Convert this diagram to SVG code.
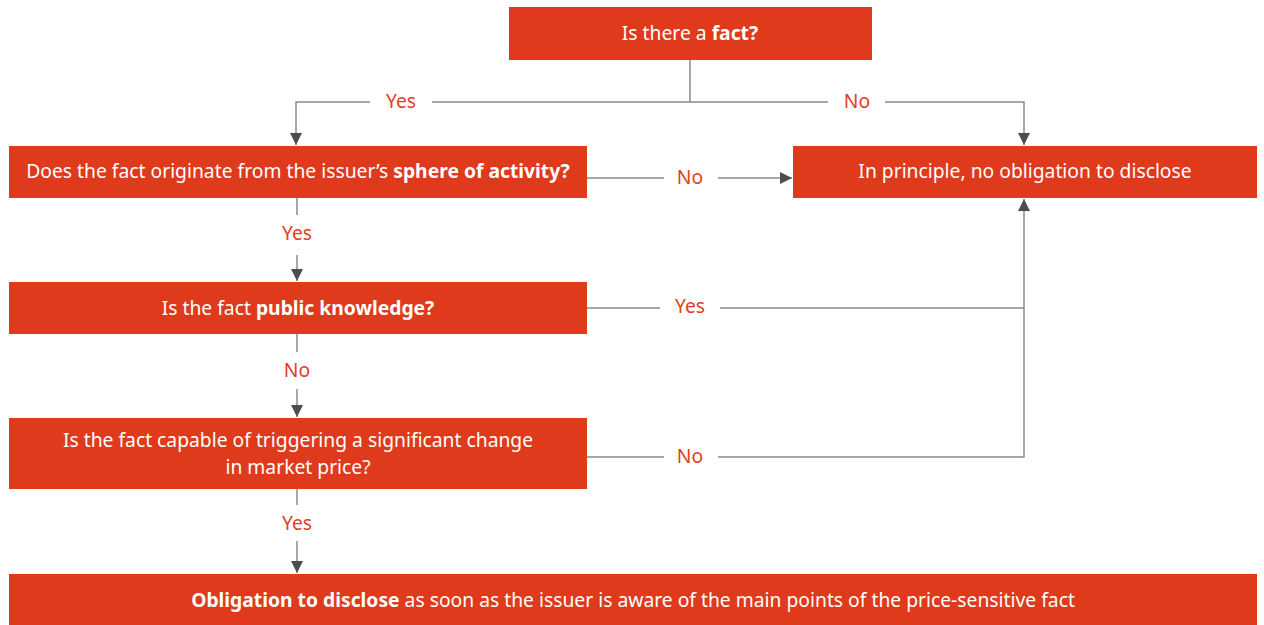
<svg xmlns="http://www.w3.org/2000/svg" width="1264" height="625" viewBox="0 0 1264 625">
<defs>
<style>
.box{fill:#DE3A1B}
.t{font-family:"Noto Sans","Open Sans","Liberation Sans",sans-serif;font-size:19.3px;fill:#ffffff;text-anchor:middle;dominant-baseline:central}
.b{font-weight:bold}
.lbl{font-family:"Noto Sans","Open Sans","Liberation Sans",sans-serif;font-size:19.3px;fill:#E0401F;text-anchor:middle;dominant-baseline:central}
.ln{fill:none;stroke:#8a8a8a;stroke-width:1.5}
</style>
<marker id="ah" markerWidth="12" markerHeight="12" viewBox="0 0 12 12" refX="12" refY="6" orient="auto" markerUnits="userSpaceOnUse">
<path d="M0,0 L12,6 L0,12 Z" fill="#4d4d4d"/>
</marker>
</defs>
<rect width="1264" height="625" fill="#ffffff"/>
<g id="connectors">
<path class="ln" d="M690,60 V102"/>
<path class="ln" d="M370,102 H296 V145" marker-end="url(#ah)"/>
<path class="ln" d="M432,102 H828"/>
<path class="ln" d="M885,102 H1024 V145" marker-end="url(#ah)"/>
<text class="lbl" x="401" y="100">Yes</text>
<text class="lbl" x="857" y="100">No</text>
<path class="ln" d="M587,178 H664"/>
<path class="ln" d="M718,178 H792" marker-end="url(#ah)"/>
<text class="lbl" x="690" y="176">No</text>
<path class="ln" d="M297,198 V215"/>
<path class="ln" d="M297,255 V281" marker-end="url(#ah)"/>
<text class="lbl" x="297" y="232">Yes</text>
<path class="ln" d="M587,308 H660"/>
<path class="ln" d="M720,308 H1024"/>
<text class="lbl" x="690" y="305">Yes</text>
<path class="ln" d="M297,334 V352"/>
<path class="ln" d="M297,389 V417" marker-end="url(#ah)"/>
<text class="lbl" x="297" y="369">No</text>
<path class="ln" d="M587,457 H664"/>
<path class="ln" d="M718,457 H1024 V199" marker-end="url(#ah)"/>
<text class="lbl" x="690" y="455">No</text>
<path class="ln" d="M297,489 V505"/>
<path class="ln" d="M297,541 V573" marker-end="url(#ah)"/>
<text class="lbl" x="297" y="522">Yes</text>
</g>
<g id="n1">
<rect class="box" x="509" y="7" width="363" height="53"/>
<text class="t" x="690" y="32">Is there a <tspan class="b">fact?</tspan></text>
</g>
<g id="n2">
<rect class="box" x="9" y="146" width="578" height="52"/>
<text class="t" x="298" y="170">Does the fact originate from the issuer’s <tspan class="b">sphere of activity?</tspan></text>
</g>
<g id="n3">
<rect class="box" x="793" y="146" width="464" height="52"/>
<text class="t" x="1025" y="170">In principle, no obligation to disclose</text>
</g>
<g id="n4">
<rect class="box" x="9" y="282" width="578" height="52"/>
<text class="t" x="298" y="307">Is the fact <tspan class="b">public knowledge?</tspan></text>
</g>
<g id="n5">
<rect class="box" x="9" y="418" width="578" height="71"/>
<text class="t" x="298" y="439">Is the fact capable of triggering a significant change</text>
<text class="t" x="298" y="466">in market price?</text>
</g>
<g id="n6">
<rect class="box" x="9" y="574" width="1248" height="51"/>
<text class="t" x="633" y="599"><tspan class="b">Obligation to disclose</tspan> as soon as the issuer is aware of the main points of the price-sensitive fact</text>
</g>
</svg>
